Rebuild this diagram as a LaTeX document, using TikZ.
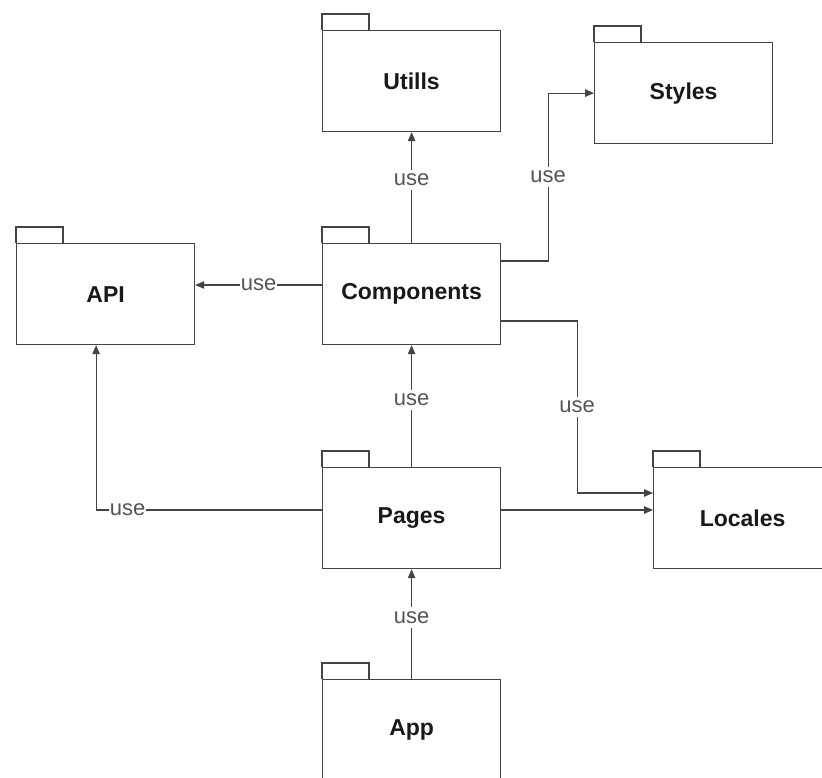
\documentclass[tikz,border=0pt]{standalone}
\usepackage{fontspec}
\setmainfont{Liberation Sans}
\usetikzlibrary{arrows.meta}
\definecolor{linegray}{HTML}{444444}
\definecolor{labelgray}{HTML}{555555}
\tikzset{
  pkg/.style={draw=linegray, line width=1.2pt, minimum width=178pt, minimum height=101pt,
    inner sep=0pt, font=\fontsize{23}{26}\selectfont\bfseries, text=black!90},
  dep/.style={draw=linegray, line width=1.1pt, -{Triangle[length=9pt,width=7.5pt]}},
  uselbl/.style={fill=white, text=labelgray, inner xsep=1pt, inner ysep=4pt,
    font=\fontsize{22}{25}\selectfont},
}
% folder tab on top of a package body
\newcommand{\pkgtab}[1]{\draw[linegray, line width=1.2pt] (#1.north west) -- ++(0,-16) -- ++(47,0) -- ++(0,16);}
\begin{document}
\begin{tikzpicture}[x=1pt,y=-1pt]
\path[use as bounding box, clip] (0,0) rectangle (822,778);
\fill[white] (0,0) rectangle (822,778);

% package bodies
\node[pkg, anchor=north west] (utils)  at (322,30)  {Utills};
\node[pkg, anchor=north west] (styles) at (594,42)  {Styles};
\node[pkg, anchor=north west] (api)    at (16,243)  {API};
\node[pkg, anchor=north west] (comp)   at (322,243) {Components};
\node[pkg, anchor=north west] (pages)  at (322,467) {Pages};
\node[pkg, anchor=north west] (loc)    at (653,467) {Locales};
\node[pkg, anchor=north west] (app)    at (322,679) {App};

\pkgtab{utils}
\pkgtab{styles}
\pkgtab{api}
\pkgtab{comp}
\pkgtab{pages}
\pkgtab{loc}
\pkgtab{app}

% dependencies
\draw[dep] (comp.north) -- node[uselbl, pos=0.57] {use} (utils.south);
\draw[dep] ([yshift=-18pt]comp.north east) -- ++(47,0)
  |- node[uselbl, pos=0.25] {use} (styles.west);
\draw[dep] ([yshift=-42pt]comp.north west) -- node[uselbl] {use} ([yshift=-42pt]api.north east);
\draw[dep] ([yshift=-78pt]comp.north east) -- ++(76,0)
  |- node[uselbl, pos=0.25] {use} ([yshift=-26pt]loc.north west);
\draw[dep] (pages.north) -- node[uselbl, pos=0.55] {use} (comp.south);
\draw[dep] ([yshift=-43pt]pages.north west)
  -| node[uselbl, pos=0.43] {use} ([xshift=-9.5pt]api.south);
\draw[dep] ([yshift=-43pt]pages.north east) -- ([yshift=-43pt]loc.north west);
\draw[dep] (app.north) -- node[uselbl, pos=0.56] {use} (pages.south);
\end{tikzpicture}
\end{document}
